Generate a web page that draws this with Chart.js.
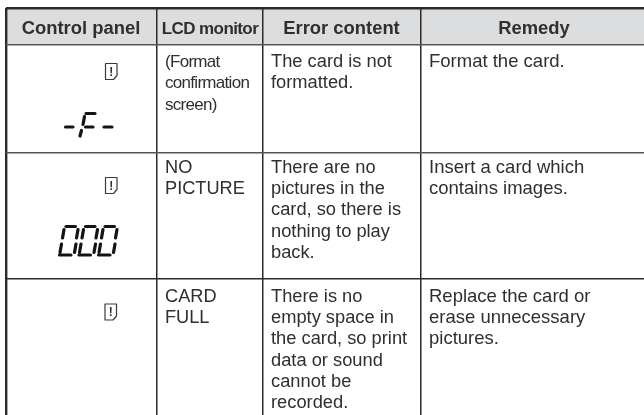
<!DOCTYPE html>
<html>
<head>
<meta charset="utf-8">
<style>
  html, body { margin: 0; padding: 0; background: #fff; }
  #wrap { width: 644px; height: 415px; }
</style>
<script src="https://cdn.jsdelivr.net/npm/chart.js@4"></script>
</head>
<body>
<div id="wrap"><canvas id="table"></canvas></div>
<script>
// table grid, in picture units
const columnEdges = [6, 156.5, 262.5, 421, 644]
const rowEdges = [8, 45, 153, 279, 415]

const headers = ['Control panel', 'LCD monitor', 'Error content', 'Remedy']
const headerCentres = [81, 210, 341.5, 534]

const monitorText = [
  ['(Format', 'confirmation', 'screen)'],
  ['NO', 'PICTURE'],
  ['CARD', 'FULL'],
]
const errorText = [
  ['The card is not', 'formatted.'],
  ['There are no', 'pictures in the', 'card, so there is', 'nothing to play', 'back.'],
  ['There is no', 'empty space in', 'the card, so print', 'data or sound', 'cannot be', 'recorded.'],
]
const remedyText = [
  ['Format the card.'],
  ['Insert a card which', 'contains images.'],
  ['Replace the card or', 'erase unnecessary', 'pictures.'],
]
const firstBaselines = [67, 172.7, 301.6]

// card icon outline, one per row
const iconLeft = [105.5, 105.5, 105]
const iconTop = [63.5, 177.5, 304]
const iconOutlineX = [0, 11.5, 11.5, 8, 0, 0]
const iconOutlineY = [0, 0, 12, 16, 16, 0]

// lcd segments [x0, y0, x1, y1]
const formatSegments = [
  [65.5, 127, 73, 127],
  [86, 113.5, 95, 113.5],
  [84.5, 116.5, 83, 124.5],
  [85.5, 127, 93, 127],
  [81.5, 130.5, 80, 136],
  [104, 127, 112, 127],
]
const zeroSegments = [
  [10.5, 226.5, 20, 226.5],
  [8.5, 229.5, 7, 238],
  [22.5, 229.5, 21, 238],
  [6, 244, 4.5, 252.5],
  [20.5, 244, 19, 252.5],
  [4, 255, 15.5, 255],
]
const zeroOffsets = [55.5, 75, 94.5]

const darkLine = '#2b2b2b'
const textColor = '#2f2f2f'

function lineSet(points, width, color) {
  return {
    type: 'line',
    data: points,
    borderColor: color,
    borderWidth: width,
    pointRadius: 0,
    borderCapStyle: 'round',
    borderJoinStyle: 'round',
    tension: 0,
    fill: false,
  }
}

const segmentSets = formatSegments.map((s) =>
  lineSet([{ x: s[0], y: s[1] }, { x: s[2], y: s[3] }], 3.2, '#141414')
)
zeroOffsets.forEach((dx) => {
  zeroSegments.forEach((s) => {
    segmentSets.push(
      lineSet([{ x: s[0] + dx, y: s[1] }, { x: s[2] + dx, y: s[3] }], 3.2, '#141414')
    )
  })
})

const iconSets = iconLeft.map((left, i) =>
  lineSet(
    iconOutlineX.map((ox, k) => ({ x: left + ox, y: iconTop[i] + iconOutlineY[k] })),
    1.2,
    '#3a3a3a'
  )
)

const headerFill = {
  type: 'line',
  data: [{ x: columnEdges[0], y: rowEdges[1] }, { x: columnEdges[4], y: rowEdges[1] }],
  borderWidth: 0,
  pointRadius: 0,
  backgroundColor: '#dcdddf',
  fill: { value: rowEdges[0] },
}

const tableText = {
  id: 'tableText',
  afterDatasetsDraw(chart) {
    const { ctx, scales } = chart
    const x = scales.x
    const y = scales.y
    ctx.save()
    ctx.fillStyle = textColor
    ctx.textBaseline = 'alphabetic'

    ctx.textAlign = 'center'
    headers.forEach((h, i) => {
      ctx.font = 'bold ' + (i === 1 ? '17px' : '18.4px') + ' "Liberation Sans"'
      ctx.letterSpacing = i === 1 ? '-0.6px' : '0px'
      ctx.fillText(h, x.getPixelForValue(headerCentres[i]), y.getPixelForValue(33.5))
    })

    ctx.textAlign = 'left'
    const writeColumn = (rows, col, pad, size, spacing) => {
      ctx.font = size + 'px "Liberation Sans"'
      ctx.letterSpacing = spacing
      rows.forEach((lines, r) => {
        lines.forEach((line, k) => {
          ctx.fillText(
            line,
            x.getPixelForValue(columnEdges[col] + pad),
            y.getPixelForValue(firstBaselines[r] + k * 21.3)
          )
        })
      })
    }
    writeColumn(monitorText.slice(0, 1), 1, 8.5, 17, '-0.7px')
    writeColumn([[], ...monitorText.slice(1)], 1, 8.5, 18.2, '0px')
    writeColumn(errorText, 2, 8.5, 18.3, '0px')
    writeColumn(remedyText, 3, 8, 18.5, '0px')

    // exclamation mark inside the card icons
    ctx.font = 'bold 12px "Liberation Sans"'
    ctx.letterSpacing = '0px'
    ctx.textAlign = 'center'
    iconLeft.forEach((left, i) => {
      ctx.fillText('!', x.getPixelForValue(left + 5.7), y.getPixelForValue(iconTop[i] + 12))
    })
    ctx.restore()
  },
}

new Chart(document.getElementById('table'), {
  type: 'scatter',
  data: {
    datasets: [headerFill, ...iconSets, ...segmentSets],
  },
  plugins: [tableText],
  options: {
    responsive: true,
    maintainAspectRatio: false,
    animation: false,
    layout: { padding: { left: columnEdges[0], top: rowEdges[0], right: 0, bottom: 0 } },
    plugins: {
      legend: { display: false },
      tooltip: { enabled: false },
      title: { display: false },
    },
    scales: {
      x: {
        type: 'linear',
        min: columnEdges[0],
        max: columnEdges[4],
        afterBuildTicks: (axis) => {
          axis.ticks = columnEdges.slice(0, 4).map((v) => ({ value: v }))
        },
        ticks: { display: false },
        border: { display: false },
        grid: {
          z: 1,
          drawTicks: false,
          color: darkLine,
          lineWidth: (c) => (c.index === 0 ? 2.4 : 1.5),
        },
      },
      y: {
        type: 'linear',
        reverse: true,
        min: rowEdges[0],
        max: rowEdges[4],
        afterBuildTicks: (axis) => {
          axis.ticks = rowEdges.slice(0, 4).map((v) => ({ value: v }))
        },
        ticks: { display: false },
        border: { display: false },
        grid: {
          z: 1,
          drawTicks: false,
          color: (c) => (c.index === 1 || c.index === 2 ? '#555' : darkLine),
          lineWidth: (c) => (c.index === 0 ? 2.4 : 1.5),
        },
      },
    },
  },
})
</script>
</body>
</html>
